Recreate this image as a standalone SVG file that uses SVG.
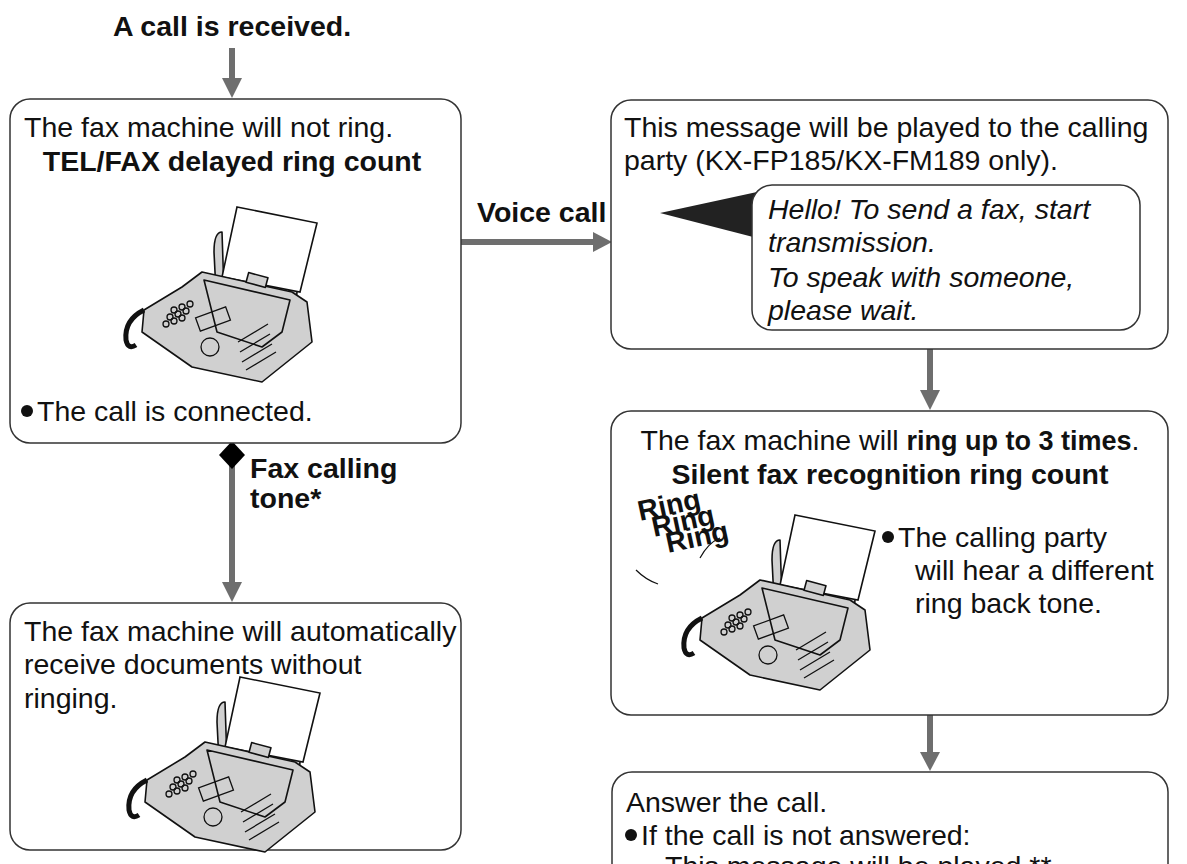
<svg xmlns="http://www.w3.org/2000/svg" width="1187" height="864" viewBox="0 0 1187 864">
<style>
.box{fill:#fff;stroke:#333;stroke-width:1.5}
.t{font-family:"Liberation Sans",Arial,sans-serif;font-size:28.5px;fill:#111}
.b{font-weight:bold}
.i{font-style:italic}
.ar{stroke:#6e6e6e;stroke-width:6;fill:none}
.ah{fill:#6e6e6e}
.fx{fill:#d0d0d0;stroke:#111;stroke-width:1.6;stroke-linejoin:round}
.pp{fill:#fff;stroke:#111;stroke-width:1.6}
</style>
<defs>
<symbol id="fax" viewBox="0 0 200 190" width="200" height="190" overflow="visible">
<path class="fx" d="M100 40 q-8 0 -8 20 l2 40 l8 0 z"/>
<path class="fx" d="M172 50 l8 0 l-6 60 l-8 0 z"/>
<polygon class="pp" points="115,15 195,31 178,100 100,85"/>
<path class="fx" d="M80 80 L170 100 L185 110 L190 150 L140 190 L70 175 L20 140 L22 118 L60 95 Z"/>
<path class="fx" d="M82 88 L168 108 L160 140 L140 155 L95 140 Z" fill="#c4c4c4"/>
<rect class="fx" x="125" y="83" width="20" height="10" transform="rotate(15 135 88)"/>
<path d="M22 118 q-20 10 -18 30 q2 10 10 5" fill="none" stroke="#111" stroke-width="5"/>
<g fill="none" stroke="#111" stroke-width="1.3">
<circle cx="52" cy="118" r="3"/><circle cx="60" cy="115" r="3"/><circle cx="68" cy="112" r="3"/>
<circle cx="48" cy="125" r="3"/><circle cx="56" cy="122" r="3"/><circle cx="64" cy="119" r="3"/>
<circle cx="44" cy="132" r="3"/><circle cx="52" cy="129" r="3"/><circle cx="60" cy="126" r="3"/>
<rect x="75" y="120" width="32" height="14" transform="rotate(-20 91 127)"/>
<circle cx="88" cy="155" r="9"/>
<path d="M120 170 l30 -18 M118 160 l30 -18 M116 150 l30 -18 M124 178 l30 -18"/>
</g>
</symbol>
</defs>
<g id="title"><text class="t b" x="232" y="36" text-anchor="middle" font-size="25">A call is received.</text></g>
<g id="connectors">
<line class="ar" x1="232" y1="48" x2="232" y2="82"/><polygon class="ah" points="222,78 242,78 232,98"/>
<line class="ar" x1="461" y1="242" x2="597" y2="242"/><polygon class="ah" points="593,232 593,252 612,242"/>
<text class="t b" x="477" y="222" font-size="25">Voice call</text>
<line class="ar" x1="232" y1="455" x2="232" y2="586"/><polygon class="ah" points="222,582 242,582 232,602"/>
<polygon points="232,441 245,455 232,469 219,455" fill="#000"/>
<text class="t b" x="250" y="478" font-size="25">Fax calling</text>
<text class="t b" x="250" y="508" font-size="25">tone*</text>
<line class="ar" x1="930" y1="349" x2="930" y2="393"/><polygon class="ah" points="920,390 940,390 930,410"/>
<line class="ar" x1="930" y1="715" x2="930" y2="755"/><polygon class="ah" points="920,752 940,752 930,771"/>
</g>
<g id="n1">
<rect class="box" x="10" y="99" width="451" height="344" rx="20"/>
<text class="t" x="24" y="137">The fax machine will not ring.</text>
<text class="t b" x="232" y="171" text-anchor="middle" font-size="26">TEL/FAX delayed ring count</text>
<use href="#fax" x="122" y="192"/>
<circle cx="27" cy="411" r="6" fill="#111"/>
<text class="t" x="37" y="421">The call is connected.</text>
</g>
<g id="n2">
<rect class="box" x="611" y="100" width="557" height="249" rx="20"/>
<text class="t" x="624" y="137">This message will be played to the calling</text>
<text class="t" x="624" y="170">party (KX-FP185/KX-FM189 only).</text>
<polygon points="660,213 757,192 757,238" fill="#222"/>
<rect class="box" x="752" y="185" width="388" height="145" rx="20"/>
<text class="t i" x="768" y="219">Hello! To send a fax, start</text>
<text class="t i" x="768" y="252">transmission.</text>
<text class="t i" x="768" y="287">To speak with someone,</text>
<text class="t i" x="768" y="320">please wait.</text>
</g>
<g id="n3">
<rect class="box" x="611" y="411" width="557" height="304" rx="20"/>
<text class="t" x="890" y="450" text-anchor="middle">The fax machine will <tspan class="b" font-size="27">ring up to 3 times</tspan>.</text>
<text class="t b" x="890" y="484" text-anchor="middle" font-size="26">Silent fax recognition ring count</text>
<use href="#fax" x="680" y="500"/>
<text class="t b" x="640" y="521" font-size="12" transform="rotate(-12 640 521)">Ring</text>
<text class="t b" x="654" y="537" font-size="12" transform="rotate(-12 654 537)">Ring</text>
<text class="t b" x="668" y="553" font-size="12" transform="rotate(-12 668 553)">Ring</text>
<path d="M636 570 q10 10 22 14 M700 558 q8 -15 20 -20" fill="none" stroke="#111" stroke-width="1.2"/>
<circle cx="888" cy="537" r="6" fill="#111"/>
<text class="t" x="898" y="547">The calling party</text>
<text class="t" x="915" y="580">will hear a different</text>
<text class="t" x="915" y="613">ring back tone.</text>
</g>
<g id="n4">
<rect class="box" x="612" y="772" width="556" height="120" rx="20"/>
<text class="t" x="626" y="812">Answer the call.</text>
<circle cx="631" cy="835" r="6" fill="#111"/>
<text class="t" x="641" y="845">If the call is not answered:</text>
<text class="t" x="665" y="876">This message will be played.**</text>
</g>
<g id="n5">
<rect class="box" x="10" y="603" width="451" height="247" rx="20"/>
<text class="t" x="24" y="641">The fax machine will automatically</text>
<text class="t" x="24" y="674">receive documents without</text>
<text class="t" x="24" y="708">ringing.</text>
<use href="#fax" x="125" y="662"/>
</g>
</svg>
